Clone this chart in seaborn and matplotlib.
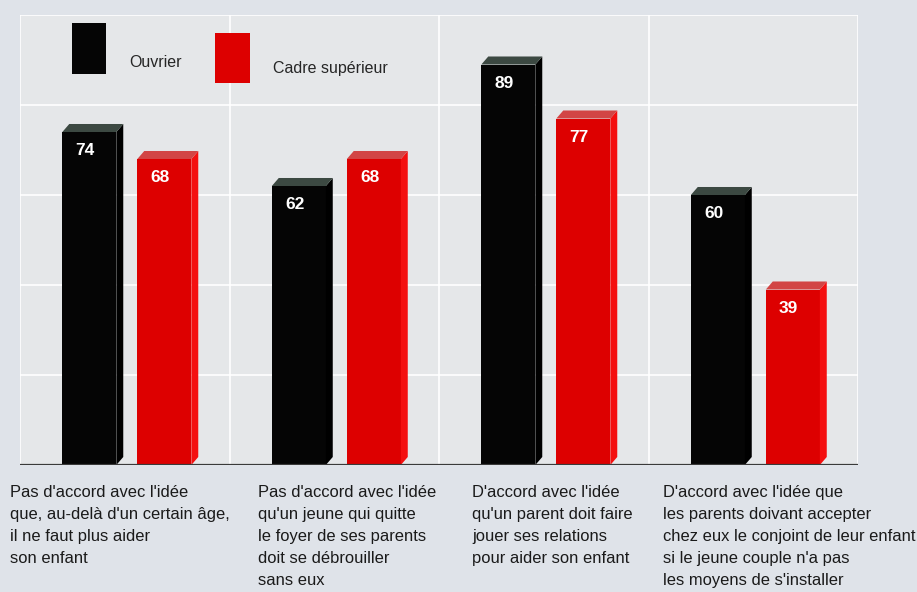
import numpy as np
import pandas as pd
import matplotlib
matplotlib.use("Agg")
import matplotlib.pyplot as plt
import matplotlib.transforms as mtransforms
from matplotlib.patches import Polygon
import seaborn as sns

categories = [
    "Pas d'accord avec l'idée\nque, au-delà d'un certain âge,\nil ne faut plus aider\nson enfant",
    "Pas d'accord avec l'idée\nqu'un jeune qui quitte\nle foyer de ses parents\ndoit se débrouiller\nsans eux",
    "D'accord avec l'idée\nqu'un parent doit faire\njouer ses relations\npour aider son enfant",
    "D'accord avec l'idée que\nles parents doivant accepter\nchez eux le conjoint de leur enfant\nsi le jeune couple n'a pas\nles moyens de s'installer",
]
series_names = ["Ouvrier", "Cadre supérieur"]
ouvrier = [74, 62, 89, 60]
cadre = [68, 68, 77, 39]

df = pd.DataFrame({
    "cat": list(range(len(categories))) * 2,
    "serie": [series_names[0]] * 4 + [series_names[1]] * 4,
    "val": ouvrier + cadre,
})

sns.set_theme(style="white")
plt.rcParams["font.family"] = ["Liberation Sans Narrow", "Liberation Sans", "DejaVu Sans"]

front = {series_names[0]: "#050505", series_names[1]: "#dd0000"}
top_c = {series_names[0]: "#3c4942", series_names[1]: "#d24545"}
side_c = {series_names[0]: "#000000", series_names[1]: "#f41010"}

fig = plt.figure(figsize=(9.17, 5.92), dpi=100, facecolor="#dfe3e9")
ax = fig.add_axes([20 / 917, 1 - 465 / 592, 838 / 917, 450 / 592])
ax.set_facecolor("#e5e7e9")

sns.barplot(data=df, x="cat", y="val", hue="serie", palette=front,
            width=0.716, gap=0.28, ax=ax, saturation=1, order=[0, 1, 2, 3],
            hue_order=series_names, zorder=3, linewidth=0, edgecolor="none")

xmin, xmax = -0.51, 3.49
ax.set_xlim(xmin, xmax)
ax.set_ylim(0, 100)
ax.set_yticks([0, 20, 40, 60, 80, 100])
ax.set_yticklabels([])
ax.set_xticks([])
ax.set_xlabel("")
ax.set_ylabel("")
ax.yaxis.grid(True, color="white", lw=1.2, zorder=0)
ax.set_axisbelow(True)
for k in range(len(categories) + 1):
    ax.axvline(xmin + k, color="white", lw=1.2, zorder=1)
for s in ax.spines.values():
    s.set_visible(False)
ax.axhline(0, color="#3a3a3a", lw=1.6, zorder=5)

# 3D faces derived from the bar patches
dx = 0.033
dy = 1.78
bars = [p for p in ax.patches if p.get_height() > 0]
hue_for_bar = [series_names[0]] * 4 + [series_names[1]] * 4
for p, s in zip(bars, hue_for_bar):
    x0 = p.get_x()
    x1 = x0 + p.get_width()
    h = p.get_height()
    ax.add_patch(Polygon([(x1, 0), (x1 + dx, dy), (x1 + dx, h + dy), (x1, h)],
                         closed=True, fc=side_c[s], ec="none", zorder=3))
    ax.add_patch(Polygon([(x0, h), (x0 + dx, h + dy), (x1 + dx, h + dy), (x1, h)],
                         closed=True, fc=top_c[s], ec="none", zorder=3))
    ax.annotate(f"{h:.0f}", xy=(x0, h), xytext=(9.5, -8), textcoords="offset points",
                ha="left", va="top", color="white", fontsize=12.5, fontweight="bold",
                zorder=6)

# legend
handles, labels = ax.get_legend_handles_labels()
leg = ax.legend(handles, labels, loc="upper left", bbox_to_anchor=(0.062, 0.982),
                ncol=2, frameon=False, fontsize=11.5, handlelength=2.13, handleheight=4.5,
                handletextpad=1.44, columnspacing=2.13, borderpad=0, borderaxespad=0)
texts = leg.get_texts()
texts[0].set_y(-15)
texts[1].set_y(-21)
lh = leg.legend_handles
lh[1].set_y(lh[1].get_y() - 7)

# category labels
label_x = [-0.558, 0.626, 1.647, 2.559]
trans = mtransforms.blended_transform_factory(ax.transData, ax.transAxes)
for lx, txt in zip(label_x, categories):
    ax.text(lx, -0.045, txt, transform=trans, ha="left", va="top",
            fontsize=11.9, linespacing=1.57, color="#1a1a1a", clip_on=False)

fig.savefig("out.png", dpi=100, facecolor=fig.get_facecolor())
